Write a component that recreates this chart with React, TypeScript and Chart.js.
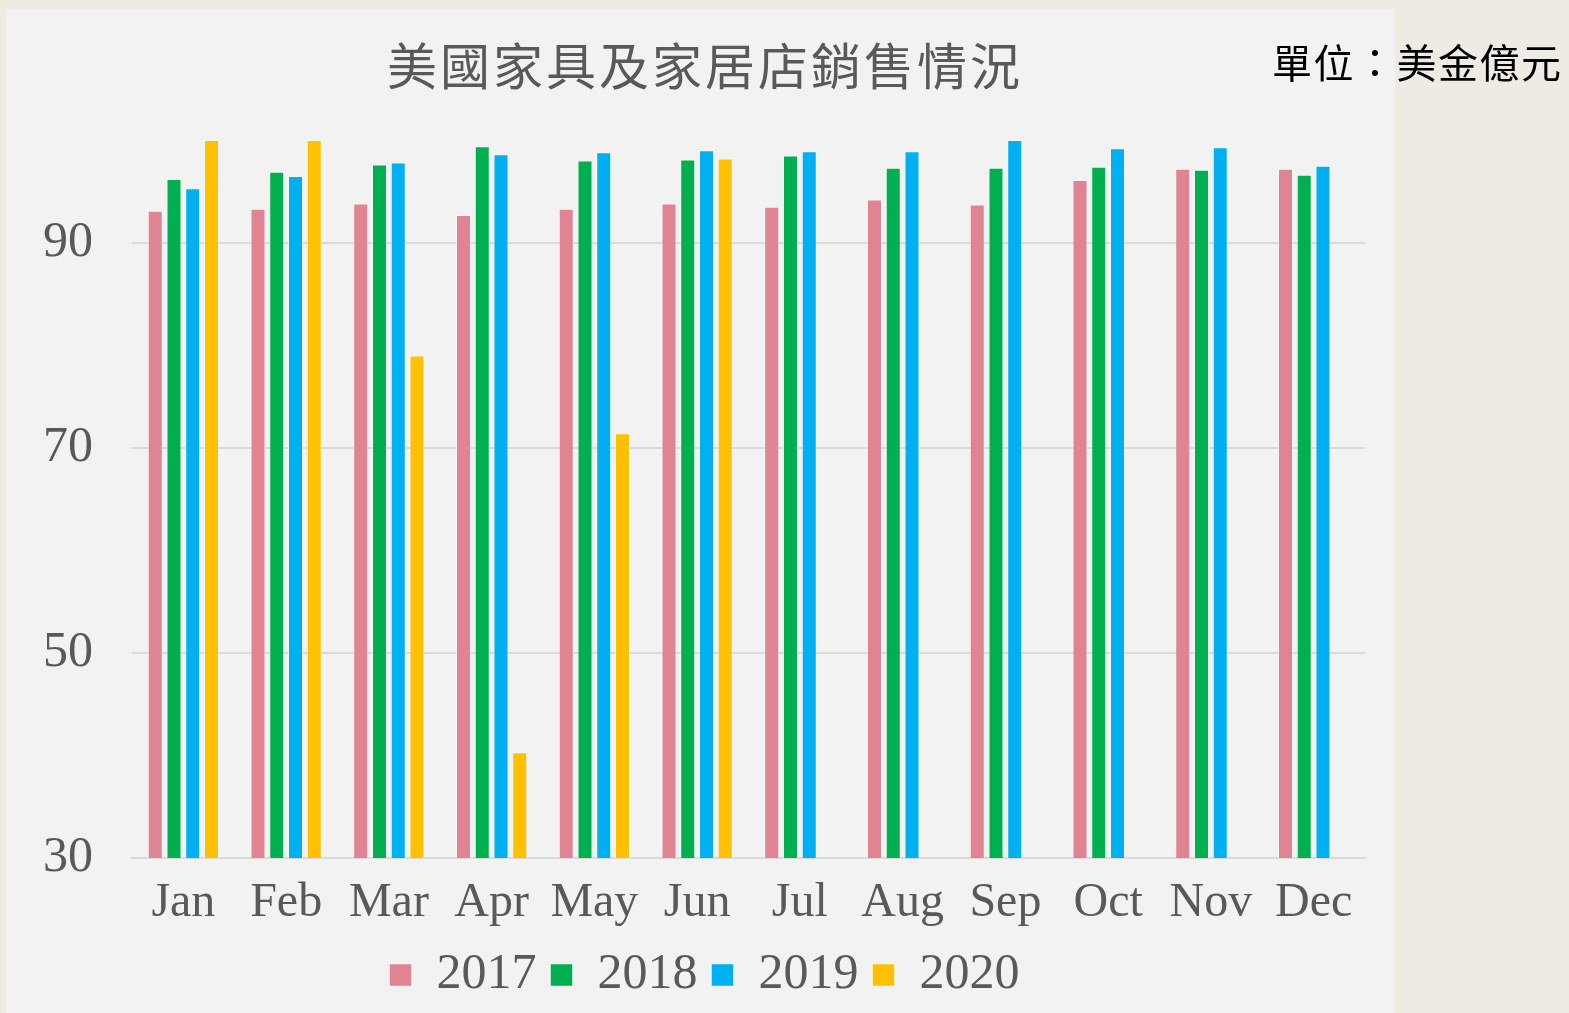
import React, { useEffect, useRef } from "react";
import { Chart, registerables } from "chart.js";

Chart.register(...registerables);

const months = ["Jan", "Feb", "Mar", "Apr", "May", "Jun", "Jul", "Aug", "Sep", "Oct", "Nov", "Dec"];
const seriesLabels = ["2017", "2018", "2019", "2020"];
const sales2017 = [93.1, 93.3, 93.8, 92.7, 93.3, 93.8, 93.5, 94.2, 93.7, 96.1, 97.2, 97.2];
const sales2018 = [96.2, 96.9, 97.6, 99.4, 98.0, 98.1, 98.5, 97.3, 97.3, 97.4, 97.1, 96.6];
const sales2019 = [95.3, 96.5, 97.8, 98.6, 98.8, 99.0, 98.9, 98.9, 100.0, 99.2, 99.3, 97.5];
const sales2020 = [100.0, 100.0, 79.0, 40.3, 71.4, 98.2, null, null, null, null, null, null];
const seriesColors = ["#e08393", "#00b050", "#00b0f0", "#ffc000"];
const yTicks = [30, 50, 70, 90];
const yMin = 30;
const yMax = 100;
const titleText = "美國家具及家居店銷售情況";
const unitText = "單位：美金億元";

const titlePlugin = {
  id: "customTitle",
  afterDraw(chart: any) {
    const ctx = chart.ctx as CanvasRenderingContext2D;
    ctx.save();
    const spacing = 3;
    (ctx as any).letterSpacing = spacing + "px";
    ctx.font = "normal 50px 'Noto Sans CJK TC'";
    ctx.fillStyle = "#595959";
    ctx.textAlign = "center";
    ctx.textBaseline = "middle";
    ctx.fillText(titleText, chart.width / 2 + 3 + spacing / 2, 57);
    ctx.restore();
  },
};

export default function App() {
  const canvasRef = useRef<HTMLCanvasElement | null>(null);

  useEffect(() => {
    const canvas = canvasRef.current;
    if (!canvas) return;
    const allSeries = [sales2017, sales2018, sales2019, sales2020];
    const chart = new Chart(canvas, {
      type: "bar",
      data: {
        labels: months,
        datasets: allSeries.map((d, i) => ({
          label: seriesLabels[i],
          data: d,
          backgroundColor: seriesColors[i],
          borderColor: "rgba(255,255,255,0.45)",
          borderWidth: 1,
          categoryPercentage: 0.73,
          barPercentage: 0.8,
        })),
      },
      plugins: [titlePlugin],
      options: {
        responsive: false,
        animation: false,
        layout: { padding: { left: 38, right: 30, top: 131, bottom: 3 } },
        plugins: {
          title: { display: false },
          legend: {
            display: true,
            position: "bottom",
            labels: {
              color: "#595959",
              font: { family: "'Liberation Serif'", size: 50 },
              boxWidth: 22,
              boxHeight: 22,
              padding: 14,
            },
          },
          tooltip: { enabled: false },
        },
        scales: {
          x: {
            grid: { display: false, drawTicks: false },
            border: { display: true, color: "#d9d9d9", width: 2 },
            ticks: {
              color: "#595959",
              font: { family: "'Liberation Serif'", size: 48, lineHeight: 1.29 },
              padding: 14,
              maxRotation: 0,
            },
            afterFit: (scale: any) => {
              scale.height = 78;
            },
          },
          y: {
            min: yMin,
            max: yMax,
            grid: { color: "#d9d9d9", lineWidth: 2, drawTicks: false },
            border: { display: false },
            ticks: {
              color: "#595959",
              font: { family: "'Liberation Serif'", size: 50 },
              padding: 39,
            },
            afterBuildTicks: (scale: any) => {
              scale.ticks = yTicks.map((v) => ({ value: v }));
            },
            afterFit: (scale: any) => {
              scale.width = 88;
            },
          },
        },
      },
    });
    return () => chart.destroy();
  }, []);

  return (
    <div
      style={{
        position: "fixed",
        left: 0,
        top: 0,
        width: 1569,
        height: 1013,
        background: "#eeebe3",
        overflow: "hidden",
      }}
    >
      <div
        style={{
          position: "absolute",
          left: 6,
          top: 9,
          width: 1389,
          height: 1004,
          background: "#f2f2f2",
        }}
      >
        <canvas ref={canvasRef} width={1389} height={1004} style={{ display: "block" }} />
      </div>
      <div
        style={{
          position: "absolute",
          left: 1272,
          top: 35,
          fontFamily: "'Noto Sans CJK TC'",
          fontSize: 40,
          letterSpacing: "1.5px",
          lineHeight: "52px",
          color: "#000000",
          whiteSpace: "nowrap",
        }}
      >
        {unitText}
      </div>
    </div>
  );
}
